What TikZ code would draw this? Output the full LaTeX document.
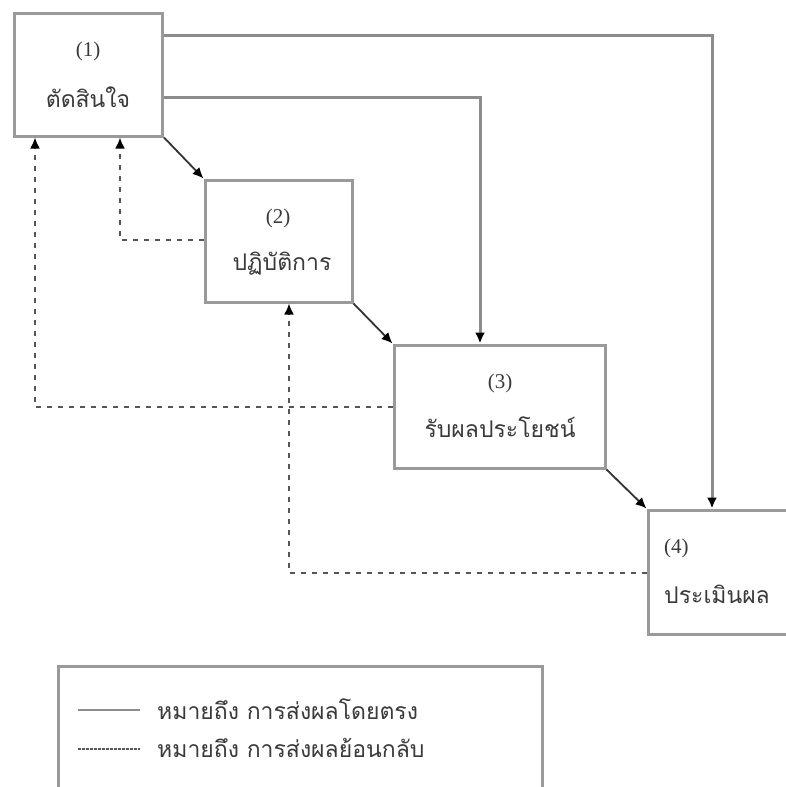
\documentclass[tikz,border=0pt]{standalone}
\usepackage{fontspec}
\setmainfont{Liberation Serif}
\newfontfamily\thaifont[Script=Thai]{Loma}
\usetikzlibrary{arrows.meta}
\definecolor{boxgray}{HTML}{9A9A9A}
\definecolor{linegray}{HTML}{8C8C8C}
\definecolor{dashgray}{HTML}{555555}
\definecolor{txt}{HTML}{3A3A3A}
\tikzset{
  stepbox/.style={draw=boxgray, line width=3pt, fill=none, inner sep=0pt},
  numlbl/.style={text=txt, font=\fontsize{21}{24}\selectfont, inner sep=0pt},
  thlbl/.style={text=txt, font=\thaifont\fontsize{23}{26}\selectfont, inner sep=0pt},
  direct/.style={draw=linegray, line width=3pt},
  flow/.style={draw=black!80, line width=1.8pt},
  feedback/.style={draw=dashgray, line width=2pt, dash pattern=on 5pt off 6pt},
  tip/.style={-{Latex[length=11pt,width=10pt,color=black]}},
}
\begin{document}
\begin{tikzpicture}[x=1pt,y=-1pt]
\useasboundingbox (0,0) rectangle (786,787);
\clip (0,0) rectangle (786,787);
\fill[white] (0,0) rectangle (786,787);
% boxes
\node[stepbox, minimum width=148pt, minimum height=123pt] (b1) at (88.5,74.5) {};
\node[stepbox, minimum width=147pt, minimum height=122pt] (b2) at (278.5,241) {};
\node[stepbox, minimum width=211pt, minimum height=123pt] (b3) at (499.5,406.5) {};
\node[stepbox, minimum width=182pt, minimum height=124pt] (b4) at (739,572) {};
% labels
\node[numlbl] (t1a) at (88,51) {(1)};
\node[thlbl] (t1b) at (88,97) {ตัดสินใจ};
\node[numlbl] (t2a) at (278,218) {(2)};
\node[thlbl] (t2b) at (282,264) {ปฏิบัติการ};
\node[numlbl] (t3a) at (500,383) {(3)};
\node[thlbl] (t3b) at (500,427) {รับผลประโยชน์};
\node[numlbl, anchor=west] (t4a) at (664,548) {(4)};
\node[thlbl, anchor=west] (t4b) at (664,594) {ประเมินผล};
% direct connectors
\draw[direct, tip] (b1.east |- 0,35) -| (b4.north -| 712,0);
\draw[direct, tip] (b1.east |- 0,97) -| (b3.north -| 480,0);
% flow arrows
\draw[flow, tip] (b1.south east) -- (b2.north west);
\draw[flow, tip] (b2.south east) -- (b3.north west);
\draw[flow, tip] (b3.south east) -- (b4.north west);
% feedback
\draw[feedback, tip] (b2.west |- 0,240) -| (b1.south -| 120,0);
\draw[feedback, tip] (b3.west |- 0,407) -| (b1.south -| 35,0);
\draw[feedback, tip] (b4.west |- 0,573) -| (b2.south -| 289,0);
% legend
\node[stepbox, minimum width=484pt, minimum height=150pt] (lg) at (300,741) {};
\coordinate (la) at (78,710);
\coordinate (lb) at (140,710);
\coordinate (lc) at (78,749);
\coordinate (ld) at (140,749);
\draw[direct, line width=2pt] (la) -- (lb);
\draw[feedback, line width=1.6pt, dash pattern=on 2.5pt off 1.5pt] (lc) -- (ld);
\node[thlbl, anchor=west] (lt1) at (157,709) {หมายถึง การส่งผลโดยตรง};
\node[thlbl, anchor=west] (lt2) at (157,748) {หมายถึง การส่งผลย้อนกลับ};
\end{tikzpicture}
\end{document}
